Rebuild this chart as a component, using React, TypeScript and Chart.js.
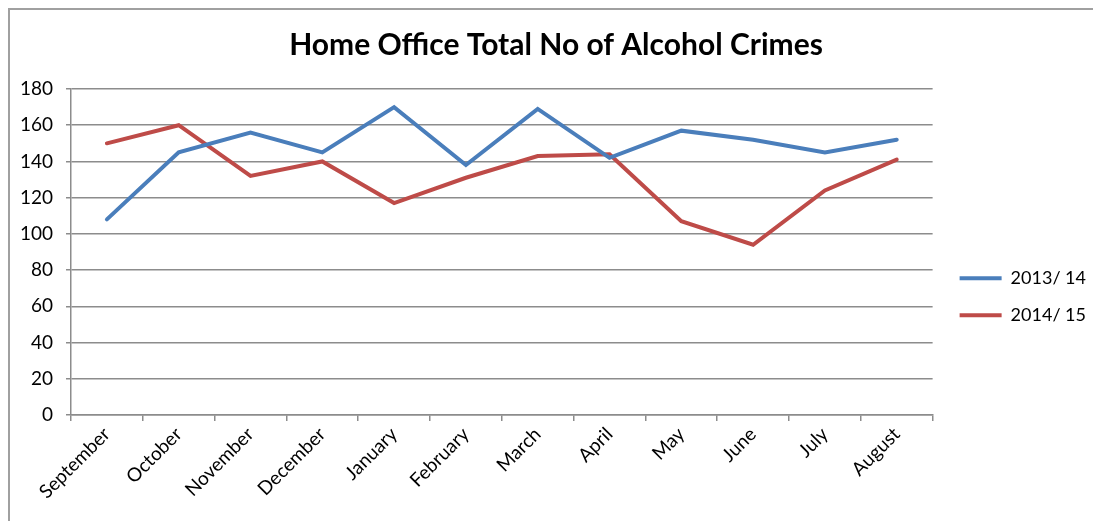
import React, { useEffect, useRef } from "react";
import { Chart, registerables } from "chart.js";

Chart.register(...registerables);

const months = [
  "September", "October", "November", "December", "January", "February",
  "March", "April", "May", "June", "July", "August",
];
const series1Label = "2013/ 14";
const series1 = [108, 145, 156, 145, 170, 138, 169, 142, 157, 152, 145, 152];
const series2Label = "2014/ 15";
const series2 = [150, 160, 132, 140, 117, 131, 143, 144, 107, 94, 124, 141];
const titleText = "Home Office Total No of Alcohol Crimes";
const yMin = 0;
const yMax = 180;
const yStep = 20;

const FONT = "Lato, 'Open Sans', sans-serif";

const boxShift = {
  id: "boxShift",
  afterLayout(chart: any) {
    const lg = chart.legend;
    if (lg) {
      lg.left += 8;
      lg.right += 8;
    }
    const tb = chart.titleBlock;
    if (tb) {
      tb.left += 7;
      tb.right += 7;
    }
  },
};

export default function App() {
  const ref = useRef<HTMLCanvasElement | null>(null);

  useEffect(() => {
    if (!ref.current) return;
    const chart = new Chart(ref.current, {
      type: "line",
      data: {
        labels: months,
        datasets: [
          {
            label: series1Label,
            data: series1,
            borderColor: "#4a7ebb",
            backgroundColor: "#4a7ebb",
            borderWidth: 4,
            borderCapStyle: "round",
            borderJoinStyle: "miter",
            pointRadius: 0,
            tension: 0,
          },
          {
            label: series2Label,
            data: series2,
            borderColor: "#be4b48",
            backgroundColor: "#be4b48",
            borderWidth: 4,
            borderCapStyle: "round",
            borderJoinStyle: "miter",
            pointRadius: 0,
            tension: 0,
          },
        ],
      },
      plugins: [boxShift],
      options: {
        animation: false,
        responsive: false,
        maintainAspectRatio: false,
        layout: { padding: { left: 0, right: 5, top: 0, bottom: 0 } },
        plugins: {
          title: {
            display: true,
            text: titleText,
            color: "#000",
            font: { family: FONT, size: 30, weight: "bold" },
            padding: { top: 17, bottom: 26 },
          },
          legend: {
            position: "right",
            title: {
              display: true,
              text: "",
              font: { family: FONT, size: 13 },
              padding: { top: 0, bottom: 47 },
            },
            labels: {
              usePointStyle: true,
              pointStyle: "line",
              pointStyleWidth: 42,
              color: "#000",
              font: { family: FONT, size: 18 },
              padding: 19,
            },
          },
          tooltip: { enabled: false },
        },
        scales: {
          x: {
            offset: true,
            grid: {
              offset: true,
              drawOnChartArea: false,
              drawTicks: true,
              tickLength: 6,
              color: "#8c8c8c",
              lineWidth: 1.5,
            },
            border: { color: "#8c8c8c", width: 1.5 },
            ticks: {
              maxRotation: 45,
              minRotation: 45,
              color: "#000",
              font: { family: FONT, size: 19 },
              padding: 2,
            },
            afterFit: (axis: any) => {
              axis.height = 106;
            },
          },
          y: {
            min: yMin,
            max: yMax,
            ticks: {
              stepSize: yStep,
              color: "#000",
              font: { family: FONT, size: 19 },
              padding: 13,
            },
            grid: {
              color: "#8c8c8c",
              lineWidth: 1.5,
              tickLength: 5,
            },
            border: { color: "#8c8c8c", width: 1.5 },
            afterFit: (axis: any) => {
              axis.width = 61;
            },
          },
        },
      },
    });
    return () => chart.destroy();
  }, []);

  return (
    <div
      style={{
        position: "fixed",
        left: 8,
        top: 8,
        width: 1083,
        height: 511,
        borderTop: "2px solid #a0a0a0",
        borderLeft: "2px solid #a0a0a0",
        background: "#fff",
      }}
    >
      <canvas ref={ref} width={1083} height={511} />
    </div>
  );
}
